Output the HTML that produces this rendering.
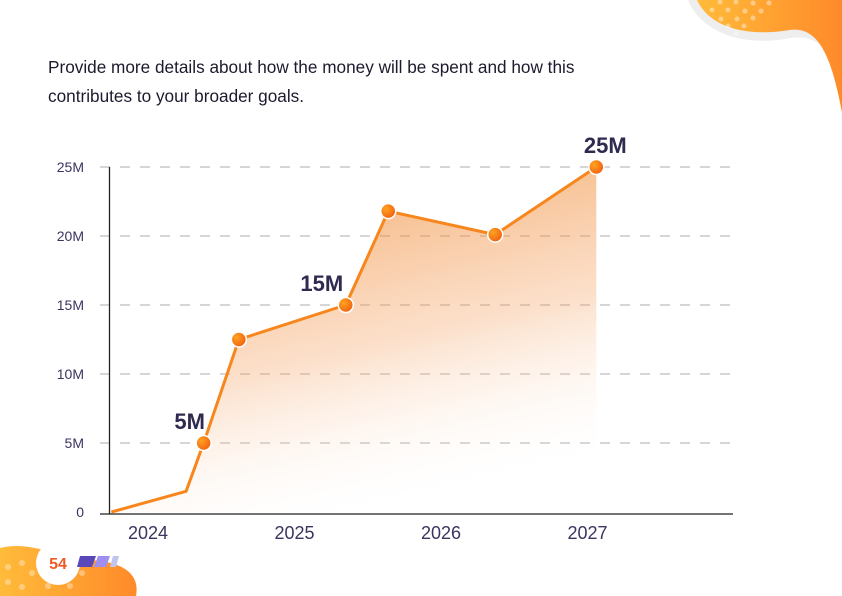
<!DOCTYPE html>
<html><head><meta charset="utf-8"><style>
body{margin:0;background:#fff;width:842px;height:596px;overflow:hidden;position:relative;font-family:"Liberation Sans",sans-serif}
.desc{position:absolute;left:48px;top:53px;font-size:17.2px;line-height:29px;color:#1e1a2e;margin:0}
</style></head><body>
<svg width="842" height="596" style="position:absolute;left:0;top:0">
<defs>
<linearGradient id="og" x1="0" y1="0" x2="1" y2="0"><stop offset="0" stop-color="#ffbb3a"/><stop offset="1" stop-color="#ff8a2a"/></linearGradient>
<linearGradient id="fillg" x1="0.3" y1="0.1" x2="0.6" y2="1"><stop offset="0" stop-color="#f08a30" stop-opacity="0.62"/><stop offset="0.5" stop-color="#f5a060" stop-opacity="0.33"/><stop offset="1" stop-color="#fff" stop-opacity="0"/></linearGradient>
<radialGradient id="dot" cx="0.35" cy="0.35" r="0.7"><stop offset="0" stop-color="#ffa320"/><stop offset="1" stop-color="#f06010"/></radialGradient>
</defs>
<g>
<path d="M688,0 C700,30 740,48 790,38 C830,32 842,70 842,130 L842,0 Z" fill="#eeeeee"/>
<path d="M697,0 C708,24 740,38 790,30 C820,26 832,60 842,112 L842,0 Z" fill="url(#og)"/>
<g fill="#fff" opacity="0.4"><circle cx="720" cy="2" r="2.5"/><circle cx="736" cy="2" r="2.5"/><circle cx="753" cy="3" r="2.5"/><circle cx="769" cy="3" r="2.5"/><circle cx="712" cy="10" r="2.5"/><circle cx="728" cy="10" r="2.5"/><circle cx="745" cy="11" r="2.5"/><circle cx="761" cy="11" r="2.5"/><circle cx="721" cy="19" r="2.5"/><circle cx="737" cy="19" r="2.5"/><circle cx="753" cy="18" r="2.5"/><circle cx="744" cy="26" r="2.5"/><circle cx="728" cy="26" r="2.5"/><circle cx="736" cy="34" r="2.5"/></g>
</g>
<g>
<path d="M0,548 C30,540 60,558 90,560 C125,562 140,575 136,596 L0,596 Z" fill="url(#og)"/>
<g fill="#fff" opacity="0.35"><circle cx="8" cy="567" r="3"/><circle cx="22" cy="563" r="3"/><circle cx="8" cy="582" r="3"/><circle cx="32" cy="573" r="3"/><circle cx="22" cy="587" r="3"/><circle cx="48" cy="586" r="3"/><circle cx="70" cy="586" r="3"/><circle cx="82" cy="573" r="3"/></g>
<circle cx="58" cy="563" r="22" fill="#fff"/>
<polygon points="80,556 96,556 92,567 77,567" fill="#5a48b8"/>
<polygon points="98,556 110,556 106,567 94,567" fill="#a08ef0"/>
<polygon points="113,556 119,556 116,567 110,567" fill="#c0c4ee"/>
</g>
<text x="58" y="569" text-anchor="middle" font-size="16" font-weight="bold" fill="#f05a28" font-family="Liberation Sans, sans-serif">54</text>
</svg>
<p class="desc">Provide more details about how the money will be spent and how this<br>contributes to your broader goals.</p>
<svg id="chart" width="842" height="596" style="position:absolute;left:0;top:0"></svg>
<script>
const years=[2024,2025,2026,2027];
const yTicks=[0,5,10,15,20,25];
const yTickLabels=["0","5M","10M","15M","20M","25M"];
const pointX=[2023.75,2024.26,2024.38,2024.62,2025.35,2025.64,2026.37,2027.06];
const pointY=[0,1.5,5,12.5,15,21.8,20.1,25];
const showMarker=[false,false,true,true,true,true,true,true];
const valueLabels=[null,null,"5M",null,"15M",null,null,"25M"];
const labelDx=[0,0,-14,0,-24,0,0,9];
const NS="http://www.w3.org/2000/svg";
const svg=document.getElementById('chart');
const xs=y=>148+(y-2024)*146.5;
const ys=v=>512-v*13.8;
function mk(t,a){const e=document.createElementNS(NS,t);for(const k in a)e.setAttribute(k,a[k]);svg.appendChild(e);return e;}
yTicks.forEach((v,i)=>{
 if(v>0){const g=mk('line',{x1:100,x2:733,y1:ys(v),y2:ys(v),stroke:'#c8c8c8','stroke-width':1.5,'stroke-dasharray':'10 10'});
 
 }
 const t=mk('text',{x:84,y:ys(v)+5,'text-anchor':'end','font-size':14,fill:'#3a3560','font-family':'Liberation Sans, sans-serif'});
 t.textContent=yTickLabels[i];
 
 
});
const ya=mk('line',{x1:109.5,x2:109.5,y1:ys(25),y2:514,stroke:'#222','stroke-width':1.3});


const xa=mk('line',{x1:100,x2:733,y1:514,y2:514,stroke:'#222','stroke-width':1.3});


years.forEach(y=>{const t=mk('text',{x:xs(y),y:539,'text-anchor':'middle','font-size':18,fill:'#3a3560','font-family':'Liberation Sans, sans-serif'});
 t.textContent=y;
 
 });
let d='';pointX.forEach((x,i)=>{d+=(i?'L':'M')+xs(x)+','+ys(pointY[i]);});
const last=pointX.length-1;
const area=mk('path',{d:d+'L'+xs(pointX[last])+','+ys(0)+'L'+xs(pointX[0])+','+ys(0)+'Z',fill:'url(#fillg)'});


const ln=mk('path',{d:d,fill:'none',stroke:'#f7861c','stroke-width':3,'stroke-linejoin':'round'});


pointX.forEach((x,i)=>{
 if(showMarker[i]){const c=mk('circle',{cx:xs(x),cy:ys(pointY[i]),r:7.5,fill:'url(#dot)',stroke:'#fff','stroke-width':1.5});
 
 }
 if(valueLabels[i]){const t=mk('text',{x:xs(x)+labelDx[i],y:ys(pointY[i])-14,'text-anchor':'middle','font-size':22,'font-weight':'bold',fill:'#2e2a50','font-family':'Liberation Sans, sans-serif'});
 t.textContent=valueLabels[i];
 
 }
});
</script>
</body></html>
